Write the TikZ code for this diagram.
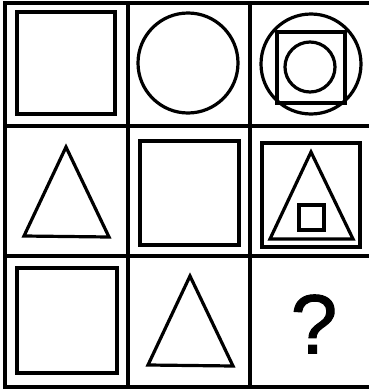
\documentclass[tikz,border=0pt]{standalone}
\usepackage{fontspec}
\setsansfont{Liberation Sans}
\newfontfamily\askfont[FakeBold=1.2]{Liberation Sans}
\usepackage{tikz}
\usetikzlibrary{positioning}
\tikzset{
  gridline/.style={line width=3.2pt, line cap=rect},
  figline/.style={line width=3.2pt, line join=miter}
}

\begin{document}
\begin{tikzpicture}[x=1pt,y=-1pt]
  \useasboundingbox (0,0) rectangle (369,391);
  % grid
  \draw[gridline] (369,3) -- (5,3) -- (5,387) -- (369,387);
  \foreach \gx in {128,250}{
    \draw[gridline] (\gx,3) -- (\gx,387);
  }
  \foreach \gy in {126,256}{
    \draw[gridline] (5,\gy) -- (369,\gy);
  }

  % row 1
  \draw[figline] (17,12) rectangle (115,114);
  \draw[figline] (188,63) circle (50pt);
  \draw[figline] (311,64) circle (50pt);
  \draw[figline] (277,32) rectangle (345,103);
  \draw[figline] (310,67) circle (25pt);

  % row 2
  \draw[figline] (66,147) -- (24,236) -- (109,237) -- cycle;
  \draw[figline] (140,141) rectangle (239,245);
  \draw[figline] (262,143) rectangle (360,247);
  \draw[figline] (311,152) -- (270,239) -- (353,239) -- cycle;
  \draw[figline] (299,205) rectangle (324,230);

  % row 3
  \draw[figline] (17,268) rectangle (117,373);
  \draw[figline] (190,276) -- (148,365) -- (233,366) -- cycle;
  \node[font=\askfont\fontsize{84}{84}\selectfont, inner sep=0pt] (ask) at (314,324) {?};
\end{tikzpicture}
\end{document}
